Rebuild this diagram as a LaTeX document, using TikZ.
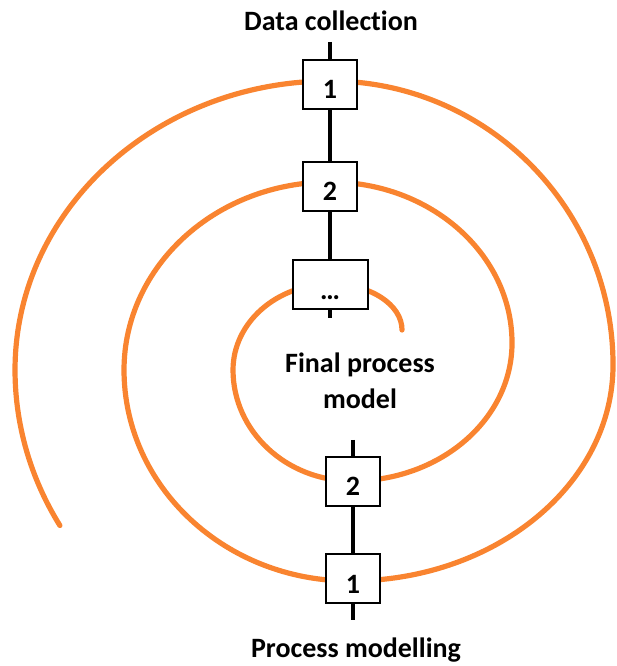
\documentclass[tikz,border=0pt]{standalone}
\usepackage{fontspec}
\setmainfont[Ligatures=NoCommon]{Carlito}
\definecolor{spiral}{RGB}{249,132,48}
\begin{document}
\begin{tikzpicture}[x=1pt,y=1pt,
  label/.style={font=\fontsize{28}{36}\selectfont\bfseries, inner sep=0pt},
  stage/.style={draw=black, line width=2pt, fill=white, inner sep=0pt,
    minimum width=54pt, text height=39pt, text depth=10pt,
    font=\fontsize{28}{30}\selectfont\bfseries},
  axis/.style={line width=4.5pt, black}]
\useasboundingbox (0,0) rectangle (617,666);

% orange spiral, outer end first, winding clockwise inwards
\draw[spiral, line width=5.2pt, line cap=round]
  (59.9,140.5)
  arc[start angle=210, end angle=180, x radius=335, y radius=311]
  arc[start angle=180, end angle=90,  x radius=315, y radius=289]
  arc[start angle=90,  end angle=0,   x radius=283, y radius=284]
  arc[start angle=0,   end angle=-90, x radius=263, y radius=216]
  arc[start angle=270, end angle=180, x radius=226, y radius=211]
  arc[start angle=180, end angle=90,  x radius=206, y radius=188]
  arc[start angle=90,  end angle=0,   x radius=182, y radius=161]
  arc[start angle=0,   end angle=-90, x radius=160, y radius=138]
  arc[start angle=270, end angle=180, x radius=119, y radius=111]
  arc[start angle=180, end angle=90,  x radius=98,  y radius=86]
  arc[start angle=90,  end angle=0,   x radius=71,  y radius=46];

% upper axis: data collection
\node[label, anchor=base] (dc) at (331,635) {Data collection};
\coordinate (dctop) at (330,624);
\coordinate (dcbot) at (330,348);
\node[stage] (d1) at (330,581.5) {1};
\node[stage] (d2) at (330,479.5) {2};
\node[stage, minimum width=75pt] (dn) at (330,381) {\dots};
\draw[axis] (dctop) -- (d1.north);
\draw[axis] (d1.south) -- (d2.north);
\draw[axis] (d2.south) -- (dn.north);
\draw[axis] (dn.south) -- (dcbot);

% centre
\node[label, align=center] (final) at (360,285) {Final process\\model};

% lower axis: process modelling
\coordinate (pmtop) at (353,226);
\coordinate (pmbot) at (353,46);
\node[stage] (m2) at (353,184.5) {2};
\node[stage] (m1) at (353,87) {1};
\draw[axis] (pmtop) -- (m2.north);
\draw[axis] (m2.south) -- (m1.north);
\draw[axis] (m1.south) -- (pmbot);
\node[label, anchor=base] (pm) at (356,9) {Process modelling};
\end{tikzpicture}
\end{document}
